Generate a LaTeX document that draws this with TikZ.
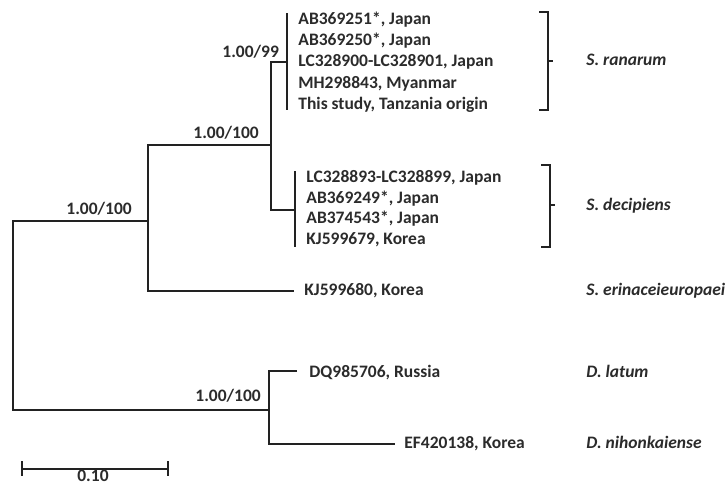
\documentclass[tikz,border=0pt]{standalone}
\usepackage{fontspec}
\setmainfont{Carlito}
\definecolor{Ink}{HTML}{222222}
\definecolor{Txt}{HTML}{2B2B2B}
\tikzset{acc/.style={anchor=base west,inner sep=0pt,text=Txt,font=\fontsize{17.5}{21}\selectfont\bfseries},
  taxon/.style={acc,font=\fontsize{17.5}{21}\selectfont\bfseries\itshape},
  brace/.style={Ink,line width=1.3pt}}
\begin{document}
\begin{tikzpicture}[x=1pt,y=-1pt,line width=2.8pt,Ink]
        \useasboundingbox(0,0)rectangle(727,485);
        \coordinate(root)at(13,316);
        \coordinate(n1)at(148,221);
        \coordinate(n2)at(271,145);
        \coordinate(n3)at(287,62);
        \coordinate(n4)at(295,210);
        \coordinate(n5)at(269,410);
        \coordinate(kj80)at(294,291);
        \coordinate(dq)at(297,371);
        \coordinate(ef)at(395,444);
        \draw(n1)-|(root)|-(n5);
        \draw(n2)-|(n1)|-(kj80);
        \draw(n3)-|(n2)|-(n4);
        \draw(dq)-|(n5)|-(ef);
        \draw(287,13)--(287,110);
        \draw(295,171)--(295,247);
        \node[acc]at(221,57){1.00/99};
        \node[acc]at(192,138){1.00/100};
        \node[acc]at(65,214){1.00/100};
        \node[acc]at(194,401){1.00/100};
        \node[acc](r1)at(297,24){AB369251*, Japan};
        \node[acc](r2)at(297,45){AB369250*, Japan};
        \node[acc](r3)at(297,66){LC328900-LC328901, Japan};
        \node[acc](r4)at(297,88){MH298843, Myanmar};
        \node[acc](r5)at(297,109){This study, Tanzania origin};
        \node[acc](d1)at(305,182){LC328893-LC328899, Japan};
        \node[acc](d2)at(305,203){AB369249*, Japan};
        \node[acc](d3)at(305,223){AB374543*, Japan};
        \node[acc](d4)at(305,244){KJ599679, Korea};
        \node[acc](e1)at(303,295){KJ599680, Korea};
        \node[acc](l1)at(308,377){DQ985706, Russia};
        \node[acc](l2)at(403,448){EF420138, Korea};
        \draw[brace](539,12)-|(548,110)--(539,110);
        \draw[brace](548,61)--(553,61);
        \draw[brace](541,165)-|(550,247)--(541,247);
        \draw[brace](550,205)--(555,205);
        \node[taxon]at(585,65){S. ranarum};
        \node[taxon]at(585,210){S. decipiens};
        \node[taxon]at(585,295){S. erinaceieuropaei};
        \node[taxon]at(585,377){D. latum};
        \node[taxon]at(585,448){D. nihonkaiense};
        \draw(22,469)--(168,469);
        \draw(22,461)--(22,476);
        \draw(168,461)--(168,476);
        \node[acc,anchor=base]at(93,481){0.10};
      \end{tikzpicture}
\end{document}
